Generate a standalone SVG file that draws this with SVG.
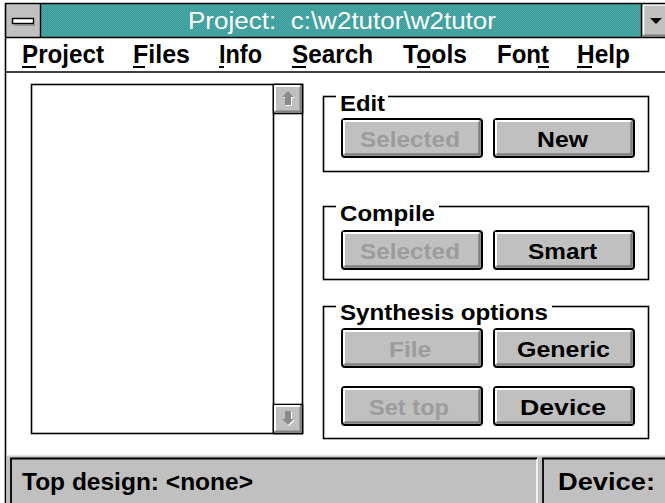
<svg xmlns="http://www.w3.org/2000/svg" width="665" height="503" viewBox="0 0 665 503">
  <style>
    .sys { font-family: "Liberation Sans", Arial, sans-serif; font-weight: bold; }
    .menu { font-size: 25px; fill: #000; }
    .grp { font-size: 21.5px; fill: #000; }
    .btn-on { font-size: 22px; fill: #000; }
    .btn-off { font-size: 22px; fill: #9c9c9c; }
    .status { font-size: 23px; fill: #000; }
    .frame { fill: none; stroke: #000; stroke-width: 1.6; }
    .ul { stroke: #000; stroke-width: 2; }
  </style>
  <defs>
    <pattern id="dither" width="2" height="2" patternUnits="userSpaceOnUse">
      <rect width="2" height="2" fill="#3c9c9a"/>
      <rect width="1" height="1" fill="#4aa8a6"/>
      <rect x="1" y="1" width="1" height="1" fill="#4aa8a6"/>
    </pattern>
    <!-- 3D push button face, 140 x 38 -->
    <g id="btn">
      <rect x="0.5" y="0.5" width="140" height="38" rx="3" fill="#c0c0c0" stroke="#000" stroke-width="2"/>
      <path d="M2.5 35.5 V2.5 H137.5" fill="none" stroke="#fff" stroke-width="2"/>
      <path d="M3 36 H138 V3" fill="none" stroke="#808080" stroke-width="2.5"/>
    </g>
    <!-- scroll arrow button, 29 x 29 -->
    <g id="sbtn">
      <rect x="0" y="0" width="29" height="29" fill="#c0c0c0" stroke="#000" stroke-width="1.6"/>
      <path d="M1.5 26.5 V1.5 H26.5" fill="none" stroke="#fff" stroke-width="2"/>
      <path d="M2 27 H27 V2" fill="none" stroke="#808080" stroke-width="2"/>
    </g>
  </defs>

  <rect width="665" height="503" fill="#fff"/>

  <!-- title bar -->
  <g id="title-bar">
    <rect x="6" y="4" width="659" height="33" fill="url(#dither)"/>
    <rect x="6" y="4" width="34" height="33" fill="#c0c0c0"/>
    <rect x="12.5" y="18.5" width="21" height="5" fill="#fff" stroke="#000" stroke-width="1.4"/>
    <line x1="14" y1="25" x2="35" y2="25" stroke="#808080" stroke-width="1.4"/>
    <line x1="40.5" y1="4" x2="40.5" y2="37" stroke="#000" stroke-width="1.4"/>
    <rect x="642" y="4" width="23" height="33" fill="#c0c0c0"/>
    <path d="M643.5 36 V5 H665" fill="none" stroke="#fff" stroke-width="1.6"/>
    <path d="M643 35.5 H665" fill="none" stroke="#808080" stroke-width="2"/>
    <line x1="641.5" y1="4" x2="641.5" y2="37" stroke="#000" stroke-width="1.4"/>
    <path d="M650 18 H662 L656 24 Z" fill="#000"/>
    <text x="188" y="29" xml:space="preserve" textLength="308" lengthAdjust="spacingAndGlyphs" style="font-family:'Liberation Sans',Arial,sans-serif;font-size:23.5px;fill:#fff">Project:  c:\w2tutor\w2tutor</text>
  </g>

  <!-- window frame and menu bar -->
  <g id="menu-bar">
    <line x1="5" y1="3.5" x2="665" y2="3.5" stroke="#000" stroke-width="1.6"/>
    <line x1="5.5" y1="3" x2="5.5" y2="503" stroke="#000" stroke-width="1.6"/>
    <line x1="6" y1="37.5" x2="665" y2="37.5" stroke="#000" stroke-width="1.6"/>
    <line x1="6" y1="72" x2="665" y2="72" stroke="#000" stroke-width="1.6"/>
    <g class="sys menu">
      <text x="22" y="63" textLength="82" lengthAdjust="spacingAndGlyphs">Project</text>
      <text x="133" y="63" textLength="57" lengthAdjust="spacingAndGlyphs">Files</text>
      <text x="219" y="63" textLength="43" lengthAdjust="spacingAndGlyphs">Info</text>
      <text x="292" y="63" textLength="81" lengthAdjust="spacingAndGlyphs">Search</text>
      <text x="403" y="63" textLength="64" lengthAdjust="spacingAndGlyphs">Tools</text>
      <text x="497" y="63" textLength="52" lengthAdjust="spacingAndGlyphs">Font</text>
      <text x="577" y="63" textLength="53" lengthAdjust="spacingAndGlyphs">Help</text>
    </g>
    <g class="ul">
      <line x1="22" y1="67" x2="36" y2="67"/>
      <line x1="133" y1="67" x2="145" y2="67"/>
      <line x1="219" y1="67" x2="224" y2="67"/>
      <line x1="292" y1="67" x2="306" y2="67"/>
      <line x1="417" y1="67" x2="430" y2="67"/>
      <line x1="538" y1="67" x2="549" y2="67"/>
      <line x1="577" y1="67" x2="592" y2="67"/>
    </g>
  </g>

  <!-- file list box with scroll bar -->
  <g id="file-list">
    <rect x="31.5" y="84.5" width="271" height="349" fill="#fff" class="frame"/>
    <line x1="273.5" y1="84" x2="273.5" y2="434" stroke="#000" stroke-width="1.6"/>
    <use href="#sbtn" x="273.5" y="84.5"/>
    <use href="#sbtn" x="273.5" y="404.5"/>
    <!-- disabled up arrow -->
    <path d="M289 92 L295 98 H292 V106 H286 V98 H283 Z" fill="#fff"/>
    <path d="M288 91 L294 97 H291 V105 H285 V97 H282 Z" fill="#8a8a8a"/>
    <!-- disabled down arrow -->
    <path d="M289 426 L295 420 H292 V412 H286 V420 H283 Z" fill="#fff"/>
    <path d="M288 425 L294 419 H291 V411 H285 V419 H282 Z" fill="#8a8a8a"/>
  </g>

  <!-- Edit group -->
  <g id="edit-group">
    <rect x="323.5" y="96.5" width="325" height="75" class="frame"/>
    <rect x="336" y="92" width="52" height="8" fill="#fff"/>
    <text class="sys grp" x="340" y="111" textLength="45" lengthAdjust="spacingAndGlyphs">Edit</text>
  </g>
  <g id="edit-selected">
    <use href="#btn" x="341.5" y="118.5"/>
    <text class="sys btn-off" x="360" y="147" textLength="100" lengthAdjust="spacingAndGlyphs">Selected</text>
  </g>
  <g id="edit-new">
    <use href="#btn" x="493.5" y="118.5"/>
    <text class="sys btn-on" x="537" y="147" textLength="51" lengthAdjust="spacingAndGlyphs">New</text>
  </g>

  <!-- Compile group -->
  <g id="compile-group">
    <rect x="323.5" y="206.5" width="325" height="73" class="frame"/>
    <rect x="336" y="202" width="103" height="8" fill="#fff"/>
    <text class="sys grp" x="340" y="221" textLength="95" lengthAdjust="spacingAndGlyphs">Compile</text>
  </g>
  <g id="compile-selected">
    <use href="#btn" x="341.5" y="230.5"/>
    <text class="sys btn-off" x="360" y="259" textLength="100" lengthAdjust="spacingAndGlyphs">Selected</text>
  </g>
  <g id="compile-smart">
    <use href="#btn" x="493.5" y="230.5"/>
    <text class="sys btn-on" x="528" y="259" textLength="69" lengthAdjust="spacingAndGlyphs">Smart</text>
  </g>

  <!-- Synthesis options group -->
  <g id="synthesis-group">
    <rect x="323.5" y="306.5" width="325" height="132" class="frame"/>
    <rect x="336" y="302" width="216" height="8" fill="#fff"/>
    <text class="sys grp" x="340" y="320" textLength="208" lengthAdjust="spacingAndGlyphs">Synthesis options</text>
  </g>
  <g id="synth-file">
    <use href="#btn" x="341.5" y="328.5"/>
    <text class="sys btn-off" x="389" y="357" textLength="42" lengthAdjust="spacingAndGlyphs">File</text>
  </g>
  <g id="synth-generic">
    <use href="#btn" x="493.5" y="328.5"/>
    <text class="sys btn-on" x="517" y="357" textLength="93" lengthAdjust="spacingAndGlyphs">Generic</text>
  </g>
  <g id="synth-settop">
    <use href="#btn" x="341.5" y="386.5"/>
    <text class="sys btn-off" x="369" y="415" textLength="80" lengthAdjust="spacingAndGlyphs">Set top</text>
  </g>
  <g id="synth-device">
    <use href="#btn" x="493.5" y="386.5"/>
    <text class="sys btn-on" x="520" y="415" textLength="86" lengthAdjust="spacingAndGlyphs">Device</text>
  </g>

  <!-- status bar -->
  <g id="status-bar">
    <rect x="6.5" y="455" width="659" height="48" fill="#c0c0c0"/>
    <line x1="6.5" y1="455.5" x2="665" y2="455.5" stroke="#e6e6e6" stroke-width="1.5"/>
    <path d="M11 503 V458.5 H537" fill="none" stroke="#000" stroke-width="1.8"/>
    <path d="M537 459 V503" fill="none" stroke="#fff" stroke-width="1.5"/>
    <path d="M543 503 V458.5 H665" fill="none" stroke="#000" stroke-width="1.8"/>
    <text class="sys status" x="22" y="490" textLength="231" lengthAdjust="spacingAndGlyphs">Top design: &lt;none&gt;</text>
    <text class="sys status" x="558" y="490" textLength="97" lengthAdjust="spacingAndGlyphs">Device:</text>
  </g>
</svg>
